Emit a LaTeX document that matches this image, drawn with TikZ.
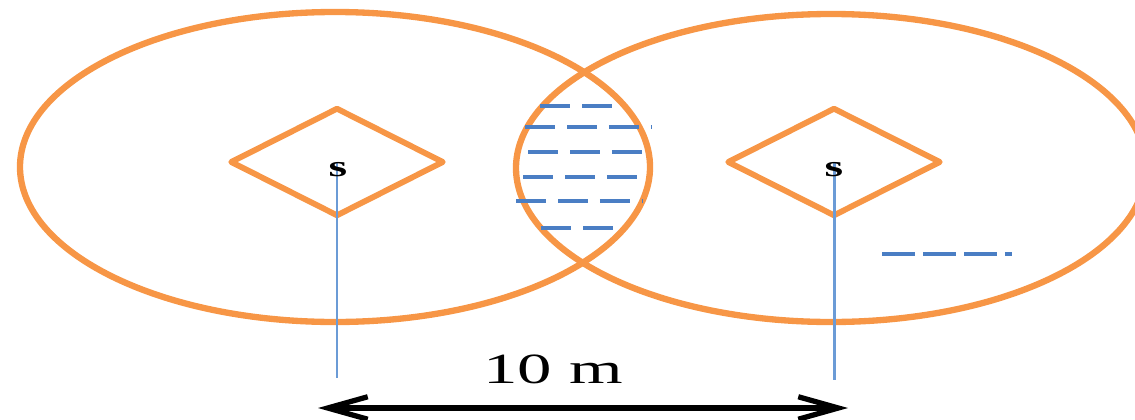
\documentclass[tikz,border=0pt]{standalone}
\usepackage{fontspec}
\setmainfont{Liberation Serif}
\usetikzlibrary{arrows.meta,shapes.geometric}
\definecolor{rangeorange}{HTML}{F79646}
\definecolor{hatchblue}{HTML}{4A7EC4}
\definecolor{poleblue}{HTML}{6B9BD6}

\begin{document}
\begin{tikzpicture}[x=0.02cm, y=-0.02cm,
    reach/.style={draw=rangeorange, line width=3.6pt},
    sensor/.style={diamond, draw=rangeorange, line width=3.3pt, line join=round, minimum width=4.28cm, minimum height=2.18cm, inner sep=0pt},
    tag/.style={font=\bfseries\fontsize{17}{20}\selectfont, inner sep=0pt},
    pole/.style={draw=poleblue, line width=1.7pt},
    hatch/.style={draw=hatchblue, line width=1.9pt, dash pattern=on 0.6cm off 0.24cm},
    legend/.style={draw=hatchblue, line width=1.9pt, dash pattern=on 0.66cm off 0.16cm},
    arrow/.style={{Straight Barb[length=8mm,width=4.5mm]}-{Straight Barb[length=8mm,width=4.5mm]}, line width=3pt}
]
\useasboundingbox (0,0) rectangle (1135,419);
\draw[reach] (335,167) ellipse [x radius=315, y radius=155];
\draw[reach] (831,168) ellipse [x radius=315, y radius=154];
\node[sensor] (sensorL) at (337,162) {};
\node[sensor] (sensorR) at (834,162) {};
\coordinate (footL) at (337,378);
\coordinate (footR) at (836,380);
\draw[pole] (sensorL.center) -- (sensorL.center |- footL);
\draw[pole] (sensorR.center) -- (sensorR.center |- footR);
\node[tag] (sL) at (338,170) {\scalebox{1.6}[1]{s}};
\node[tag] (sR) at (834,170) {\scalebox{1.6}[1]{s}};
\draw[hatch] (540,106) -- (612,106);
\draw[hatch] (525,127) -- (652,127);
\draw[hatch] (528,152) -- (653,152);
\draw[hatch] (523,177) -- (648,177);
\draw[hatch] (516,201) -- (642,201);
\draw[hatch] (541,228) -- (613,228);
\draw[legend] (882,254) -- (1012,254);
\node[font=\fontsize{24.5}{28}\selectfont, inner sep=0pt, anchor=base] (dist) at (553,383) {\scalebox{1.6}[1]{10 m}};
\coordinate (arrL) at (318,408);
\coordinate (arrR) at (848,408);
\draw[arrow] (arrL) -- (arrR);
\end{tikzpicture}
\end{document}
